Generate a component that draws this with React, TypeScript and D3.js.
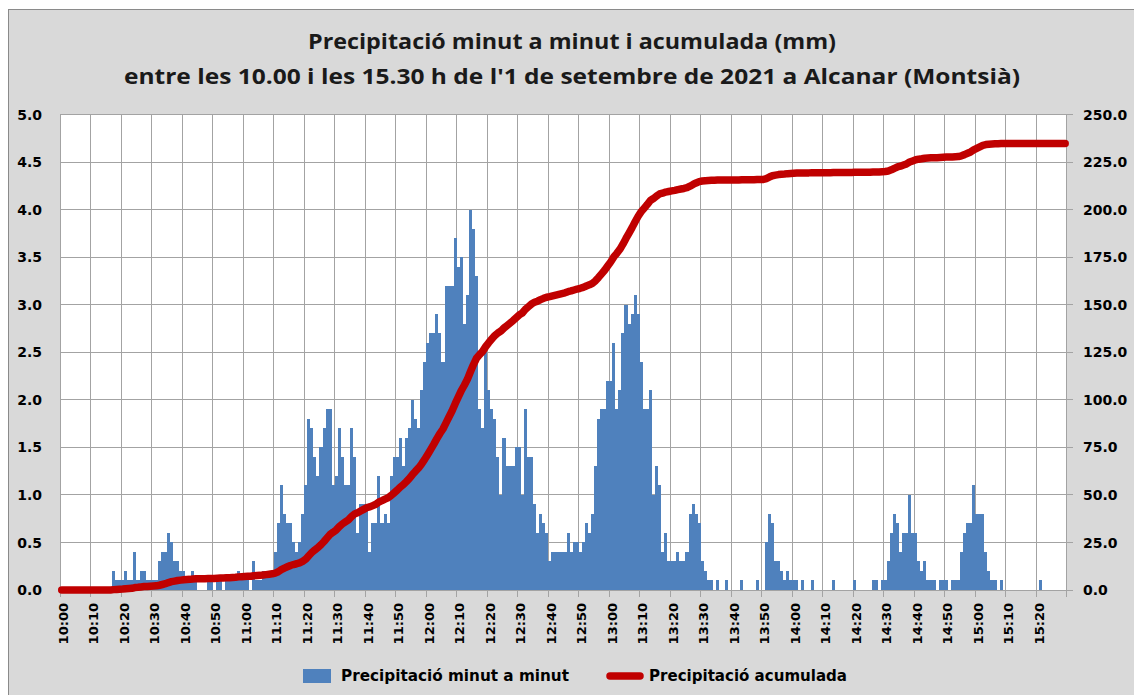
import React from 'react';
import * as d3 from 'd3';

// rainfall per minute (mm), one array per hour, starting 10:00
const rain10h = [
  0, 0, 0, 0, 0, 0, 0, 0, 0, 0,
  0, 0, 0, 0, 0, 0, 0, 0.2, 0.1, 0.1,
  0.1, 0.2, 0.1, 0.1, 0.4, 0.1, 0.2, 0.2, 0.1, 0.1,
  0.1, 0.1, 0.3, 0.4, 0.4, 0.6, 0.5, 0.3, 0.3, 0.2,
  0.2, 0.1, 0.1, 0.2, 0.1, 0, 0, 0, 0.1, 0.1,
  0, 0.1, 0.1, 0, 0.1, 0.1, 0.1, 0.1, 0.2, 0.1,
];
const rain11h = [
  0.1, 0.1, 0, 0.3, 0.1, 0.1, 0.2, 0.2, 0.2, 0.2,
  0.4, 0.7, 1.1, 0.8, 0.7, 0.7, 0.5, 0.4, 0.5, 0.8,
  1.1, 1.8, 1.7, 1.4, 1.2, 1.5, 1.7, 1.9, 1.9, 1.1,
  1.2, 1.7, 1.4, 1.1, 1.1, 1.7, 1.4, 0.6, 0.9, 0.9,
  0.9, 0.4, 0.7, 0.7, 1.2, 0.7, 0.8, 0.7, 1.2, 1.4,
  1.4, 1.6, 1.3, 1.6, 1.7, 2.0, 1.8, 1.7, 2.1, 2.4,
];
const rain12h = [
  2.6, 2.7, 2.7, 2.9, 2.7, 2.4, 3.2, 3.2, 3.2, 3.7,
  3.4, 3.5, 2.8, 3.1, 4.0, 3.8, 3.3, 1.9, 1.7, 2.5,
  2.1, 1.9, 1.8, 1.4, 1.0, 1.6, 1.3, 1.3, 1.3, 1.5,
  1.5, 1.0, 1.9, 1.4, 1.4, 0.9, 0.6, 0.8, 0.7, 0.6,
  0.3, 0.4, 0.4, 0.4, 0.4, 0.4, 0.6, 0.4, 0.5, 0.5,
  0.4, 0.5, 0.7, 0.6, 0.8, 1.3, 1.8, 1.9, 1.9, 2.2,
];
const rain13h = [
  2.2, 2.6, 1.9, 2.1, 2.7, 3.0, 2.8, 2.9, 3.1, 2.9,
  2.4, 1.9, 1.9, 2.1, 1.0, 1.3, 1.1, 0.4, 0.6, 0.3,
  0.3, 0.3, 0.4, 0.3, 0.3, 0.4, 0.8, 0.9, 0.8, 0.7,
  0.3, 0.2, 0.1, 0.1, 0, 0.1, 0, 0, 0.1, 0,
  0, 0, 0, 0.1, 0, 0, 0, 0, 0.1, 0,
  0, 0.5, 0.8, 0.7, 0.3, 0.3, 0.2, 0.1, 0.2, 0.1,
];
const rain14h = [
  0.1, 0.1, 0, 0.1, 0, 0, 0.1, 0, 0, 0,
  0, 0, 0, 0.1, 0, 0, 0, 0, 0, 0,
  0.1, 0, 0, 0, 0, 0, 0.1, 0.1, 0, 0.1,
  0.1, 0.3, 0.6, 0.8, 0.7, 0.4, 0.6, 0.6, 1.0, 0.6,
  0.6, 0.3, 0.2, 0.3, 0.1, 0.1, 0.1, 0, 0.1, 0.1,
  0.1, 0, 0.1, 0.1, 0.1, 0.4, 0.6, 0.7, 0.7, 1.1,
];
const rain15h = [
  0.8, 0.8, 0.8, 0.4, 0.2, 0.1, 0.1, 0, 0.1, 0,
  0, 0, 0, 0, 0, 0, 0, 0, 0, 0,
  0, 0.1, 0, 0, 0, 0, 0, 0, 0, 0,
];

const timeLabels = [
  '10:00', '10:10', '10:20', '10:30', '10:40', '10:50',
  '11:00', '11:10', '11:20', '11:30', '11:40', '11:50',
  '12:00', '12:10', '12:20', '12:30', '12:40', '12:50',
  '13:00', '13:10', '13:20', '13:30', '13:40', '13:50',
  '14:00', '14:10', '14:20', '14:30', '14:40', '14:50',
  '15:00', '15:10', '15:20',
];
const leftTicks = [0, 0.5, 1, 1.5, 2, 2.5, 3, 3.5, 4, 4.5, 5];
const rightTicks = [0, 25, 50, 75, 100, 125, 150, 175, 200, 225, 250];

const titleLines = [
  'Precipitació minut a minut i acumulada (mm)',
  "entre les 10.00 i les 15.30 h de l'1 de setembre de 2021 a Alcanar (Montsià)",
];
const legendBars = 'Precipitació minut a minut';
const legendLine = 'Precipitació acumulada';

const BLUE = '#4F81BD';
const RED = '#C00000';
const GRID = '#a3a3a3';
const LABEL_FONT = "'DejaVu Sans', Verdana, sans-serif";

export default function App() {
  const rain = [...rain10h, ...rain11h, ...rain12h, ...rain13h, ...rain14h, ...rain15h];
  const accumulated = Array.from(d3.cumsum(rain));

  const left = 60.2, right = 1066.7, top = 114.7, bottom = 590;
  const x = d3.scaleLinear().domain([0, rain.length]).range([left, right]);
  const yL = d3.scaleLinear().domain([0, 5]).range([bottom, top]);
  const yR = d3.scaleLinear().domain([0, 250]).range([bottom, top]);

  const line = d3.line<number>()
    .x((d, i) => x(i + 0.5))
    .y(d => yR(d));

  const fmt = d3.format('.1f');
  const gridX = d3.range(0, rain.length + 1, 10);

  return (
    <svg width={1134} height={695} style={{ position: 'absolute', left: 0, top: 0, background: '#fff' }}>
      <rect x={8.5} y={9.5} width={1140} height={700} fill="#d9d9d9" stroke="#8a8a8a" />

      {titleLines.map((t, i) => (
        <text key={t} x={572} y={49 + i * 35} textAnchor="middle"
          fontFamily="'Open Sans', sans-serif" fontWeight={700} fontSize={21} fill="#1a1a1a"
          textLength={i === 0 ? 528 : 896} lengthAdjust="spacingAndGlyphs">{t}</text>
      ))}

      {/* plot area */}
      <rect x={left} y={top} width={right - left} height={bottom - top} fill="#fff" />

      <g stroke={GRID} strokeWidth={1} shapeRendering="crispEdges">
        {leftTicks.map(v => (
          <line key={'h' + v} x1={left} x2={right} y1={yL(v)} y2={yL(v)} />
        ))}
        {gridX.map(m => (
          <line key={'v' + m} x1={x(m)} x2={x(m)} y1={top} y2={bottom + 7} />
        ))}
        {rightTicks.map(v => (
          <line key={'r' + v} x1={right} x2={right + 6} y1={yR(v)} y2={yR(v)} />
        ))}
      </g>

      {/* bars, snapped to whole pixels so neighbours touch */}
      <g fill={BLUE} shapeRendering="crispEdges">
        {rain.map((v, i) => {
          if (v <= 0) return null;
          const x0 = Math.round(x(i));
          const x1 = Math.round(x(i + 1));
          const y0 = Math.round(yL(v));
          return <rect key={i} x={x0} width={x1 - x0} y={y0} height={Math.round(bottom) - y0} />;
        })}
      </g>

      <path d={line(accumulated) || ''} fill="none" stroke={RED} strokeWidth={7.5}
        strokeLinejoin="round" strokeLinecap="round" />

      {/* y axis labels */}
      <g fontFamily={LABEL_FONT} fontWeight={700} fontSize={14} fill="#000">
        {leftTicks.map(v => (
          <text key={'l' + v} x={42} y={yL(v)} dy="0.36em" textAnchor="end">{fmt(v)}</text>
        ))}
        {rightTicks.map(v => (
          <text key={'rt' + v} x={1083} y={yR(v)} dy="0.36em" textAnchor="start">{fmt(v)}</text>
        ))}
      </g>

      {/* time labels */}
      <g fontFamily={LABEL_FONT} fontWeight={700} fontSize={13} fill="#000">
        {timeLabels.map((t, i) => (
          <text key={t} transform={`translate(${x(i * 10) + 7.3},603) rotate(-90)`} textAnchor="end">{t}</text>
        ))}
      </g>

      {/* legend */}
      <rect x={303} y={669} width={28} height={14} fill={BLUE} />
      <text x={341} y={681} fontFamily={LABEL_FONT} fontWeight={700} fontSize={15} fill="#000"
        textLength={228} lengthAdjust="spacingAndGlyphs">{legendBars}</text>
      <line x1={610} x2={640} y1={676} y2={676} stroke={RED} strokeWidth={7.5} strokeLinecap="round" />
      <text x={649} y={681} fontFamily={LABEL_FONT} fontWeight={700} fontSize={15} fill="#000"
        textLength={198} lengthAdjust="spacingAndGlyphs">{legendLine}</text>
    </svg>
  );
}
